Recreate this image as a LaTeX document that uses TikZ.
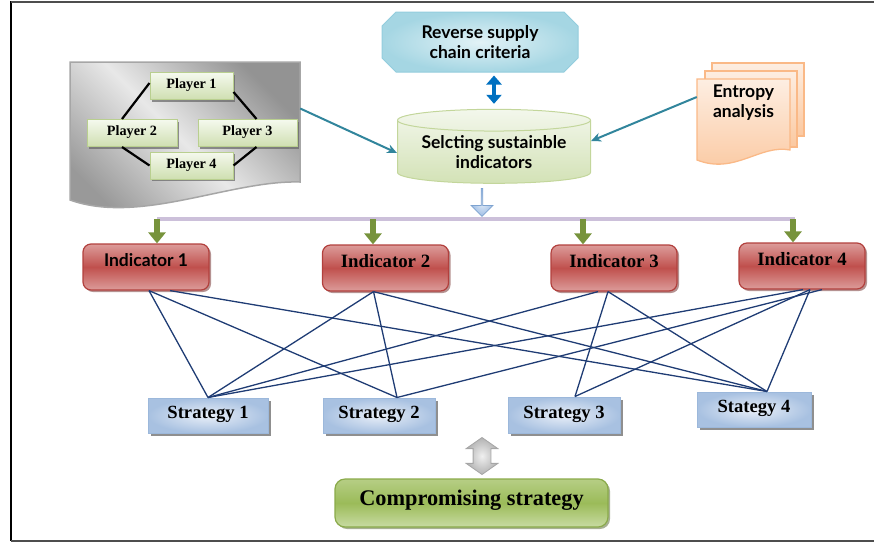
\documentclass[tikz,border=0pt]{standalone}
\usepackage{fontspec}
\setmainfont{Liberation Serif}
\newfontfamily\gillsans{Lato}
\usetikzlibrary{arrows,arrows.meta,shapes.geometric,shapes.misc,shapes.arrows,shadows}

\definecolor{framegray}{HTML}{4D4D4D}
\definecolor{plline}{HTML}{B9CF8F}
\definecolor{plhi}{HTML}{F5F9EE}
\definecolor{pllo}{HTML}{CFDFB1}
\definecolor{indline}{HTML}{B2403D}
\definecolor{indhi}{HTML}{DC9C9A}
\definecolor{indmid}{HTML}{C0504D}
\definecolor{indshadow}{HTML}{6B2523}
\definecolor{stline}{HTML}{9CB8DB}
\definecolor{sthi}{HTML}{E9EFF8}
\definecolor{stlo}{HTML}{A8C1E1}
\definecolor{revline}{HTML}{93CDDD}
\definecolor{revhi}{HTML}{E2F2F6}
\definecolor{revlo}{HTML}{A5D6E3}
\definecolor{selline}{HTML}{C3D69B}
\definecolor{selhi}{HTML}{F3F7EC}
\definecolor{sello}{HTML}{D3E2B6}
\definecolor{entline}{HTML}{FAB987}
\definecolor{enthi}{HTML}{FDEEE2}
\definecolor{entlo}{HTML}{FBC8A0}
\definecolor{tealarr}{HTML}{31859C}
\definecolor{revarr}{HTML}{0070C0}
\definecolor{feedgreen}{HTML}{77933C}
\definecolor{barlav}{HTML}{CCC0DA}
\definecolor{linknavy}{HTML}{1F3C74}
\definecolor{cpline}{HTML}{8AAA4A}
\definecolor{cphi}{HTML}{B6CE85}
\definecolor{cpmid}{HTML}{9BBB59}
\definecolor{cplo}{HTML}{C8DBA2}
\definecolor{cpshadow}{HTML}{4F6228}
\definecolor{dnline}{HTML}{7EA3D0}
\definecolor{dnhi}{HTML}{E3ECF7}
\definecolor{dnlo}{HTML}{9DBDE5}

\tikzset{
  player/.style={draw=plline, line width=1pt, top color=plhi, bottom color=pllo,
    minimum width=83pt, inner xsep=0pt, inner ysep=0pt, text height=16pt, text depth=11pt,
    font=\fontsize{14.2}{16}\selectfont\bfseries,
    drop shadow={shadow xshift=2pt, shadow yshift=-2pt, fill=black!60, opacity=0.7}},
  plink/.style={draw=black, line width=2.2pt},
  gamebg/.style={draw=gray!70, line width=1.5pt, top color=gray!85, bottom color=gray!80,
    middle color=gray!18, shading angle=-45},
  revbox/.style={chamfered rectangle, chamfered rectangle xsep=7pt, chamfered rectangle ysep=7pt,
    draw=revline, line width=1pt, inner color=revhi, outer color=revlo,
    minimum width=196pt, minimum height=60pt, inner sep=0pt, align=center,
    font=\gillsans\fontsize{17.5}{20}\selectfont\bfseries},
  selcyl/.style={cylinder, shape border rotate=90, aspect=0.15, draw=selline, line width=1pt,
    top color=selhi, bottom color=sello, minimum width=193pt, minimum height=74pt,
    inner sep=0pt, align=center, font=\gillsans\fontsize{17.5}{20}\selectfont\bfseries},
  entpage/.style={draw=entline, line width=1.3pt, top color=enthi, bottom color=entlo},
  enttext/.style={minimum width=93pt, inner sep=0pt, align=center,
    font=\gillsans\fontsize{17.5}{20}\selectfont\bfseries},
  tealline/.style={draw=tealarr, line width=2pt, -{Stealth[length=10pt,width=9pt]}},
  revlink/.style={draw=revarr, line width=4.5pt,
    {Triangle[length=9pt,width=15pt]}-{Triangle[length=9pt,width=15pt]}},
  dnarrow/.style={single arrow, shape border rotate=270, draw=dnline, line width=0.8pt,
    inner color=dnhi, outer color=dnlo, minimum height=28pt, minimum width=22pt,
    single arrow head extend=5pt, inner sep=0pt},
  bar/.style={draw=barlav, line width=4pt},
  feed/.style={draw=feedgreen, line width=6pt, -{Triangle[length=11pt,width=17pt]}},
  indic/.style={draw=indline, line width=1.2pt, rounded corners=8pt, top color=indhi,
    bottom color=indhi, middle color=indmid, minimum width=126pt, inner ysep=0pt,
    text height=22pt, text depth=24pt, font=\fontsize{18.8}{20}\selectfont\bfseries,
    drop shadow={shadow xshift=2pt, shadow yshift=-2pt, fill=indshadow}},
  strat/.style={draw=stline, line width=1pt, inner color=sthi, outer color=stlo,
    minimum width=112pt, inner ysep=0pt, text height=20pt, text depth=15pt,
    font=\fontsize{18.6}{20}\selectfont\bfseries,
    drop shadow={shadow xshift=3pt, shadow yshift=-3pt, fill=black!55, opacity=0.8}},
  link/.style={draw=linknavy, line width=1.3pt},
  dblarrow/.style={double arrow, shape border rotate=90, draw=gray!70, line width=0.8pt,
    inner color=gray!12, outer color=gray!60, minimum height=37pt, minimum width=31pt,
    double arrow head extend=7pt, double arrow tip angle=110, inner sep=8.5pt},
  compbox/.style={draw=cpline, line width=1.2pt, rounded corners=10pt, top color=cphi,
    bottom color=cplo, middle color=cpmid, minimum width=273pt, inner ysep=0pt,
    text height=26pt, text depth=22pt, font=\fontsize{22.3}{24}\selectfont\bfseries,
    drop shadow={shadow xshift=2pt, shadow yshift=-2pt, fill=cpshadow}}
}

\begin{document}
\begin{tikzpicture}[x=1pt,y=-1pt]
    \useasboundingbox (0,0) rectangle (874,544);
    \draw[line width=2pt] (11,1) -- (11,541);
    \draw[line width=2pt,framegray] (11,2) -- (874,2);
    \draw[line width=2pt,framegray] (11,541) -- (874,541);

    \path[gamebg] (70,62) -- (300,62) -- (300,182) .. controls (230,180) and (140,225) .. (70,200) -- cycle;
    \node (Game) at (185,137.5) [minimum width=230pt, minimum height=151pt] {};
    \node[player] (P1) at (191.5,86) {Player 1};
    \node[player, minimum width=90pt] (P2) at (132,133) {Player 2};
    \node[player, minimum width=99pt] (P3) at (247.5,133) {Player 3};
    \node[player] (P4) at (191.5,165.5) {Player 4};
    \draw[plink] ([yshift=3pt]P1.west) -- ([xshift=-10pt]P2.north);
    \draw[plink] ([yshift=-6pt]P1.east) -- ([xshift=9pt]P3.north);
    \draw[plink] ([xshift=-10pt]P2.south) -- (P4.west);
    \draw[plink] ([xshift=9pt]P3.south) -- (P4.east);

    \path[entpage] (712,63) rectangle (804,136);
    \path[entpage] (705,71) rectangle (797,147);
    \path[entpage] (697,79) -- (790,79) -- (790,150) .. controls (760,144) and (735,175) .. (697,160) -- cycle;
    \node[enttext] (Ent) at (743.5,103) {Entropy\\analysis};

    \node[revbox] (Rev) at (480,42) {Reverse supply\\chain criteria};
    \node[selcyl] (Sel) at (494,152) {Selcting sustainble\\indicators};
    \draw[revlink, shorten <=3pt, shorten >=5pt] (Rev.south -| Sel.north) -- (Sel.north);
    \draw[tealline] ([yshift=29pt]Game.east) -- ([yshift=-1pt]Sel.west);
    \draw[tealline] ([yshift=6pt]Ent.west) -- ([yshift=11pt]Sel.east);

    \node[dnarrow] (Dn) at (482,202) {};
    \coordinate (Bar1) at (157,219);
    \coordinate (Bar2) at (373,219);
    \coordinate (Bar3) at (583,219);
    \coordinate (Bar4) at (795,219);
    \draw[bar] (Bar1) -- (Bar4);

    \node[indic, font=\gillsans\fontsize{17.5}{20}\selectfont\bfseries] (I1) at (146,267) {Indicator 1};
    \node[indic] (I2) at (385.5,268) {Indicator 2};
    \node[indic] (I3) at (614,268) {Indicator 3};
    \node[indic] (I4) at (802,266) {Indicator 4};
    \draw[feed] (Bar1) -- (Bar1 |- I1.north);
    \draw[feed] (Bar2) -- (Bar2 |- I2.north);
    \draw[feed] (Bar3) -- (Bar3 |- I3.north);
    \draw[feed] ([xshift=-2pt]Bar4) -- ([xshift=-2pt]Bar4 |- I4.north);

    \node[strat, minimum width=120pt] (S1) at (208,415.5) {Strategy 1};
    \node[strat] (S2) at (379,415.5) {Strategy 2};
    \node[strat, text height=21pt] (S3) at (564,415) {Strategy 3};
    \node[strat, minimum width=114pt] (S4) at (754,409.5) {Stategy 4};

    \draw[link] ([xshift=3pt]I1.south) -- (S1.north);
    \draw[link] ([xshift=3pt]I1.south) -- ([xshift=18pt]S2.north);
    \draw[link] ([xshift=24pt]I1.south) -- ([xshift=13pt]S4.north);
    \draw[link] ([xshift=-12pt]I2.south) -- (S1.north);
    \draw[link] ([xshift=-12pt]I2.south) -- ([xshift=18pt]S2.north);
    \draw[link] ([xshift=-12pt]I2.south) -- ([xshift=13pt]S4.north);
    \draw[link] ([xshift=-16pt]I3.south) -- (S1.north);
    \draw[link] ([xshift=-6pt]I3.south) -- ([xshift=11pt]S3.north);
    \draw[link] ([xshift=-6pt]I3.south) -- ([xshift=13pt]S4.north);
    \draw[link] ([xshift=1pt]I4.south) -- (S1.north);
    \draw[link] ([xshift=20pt]I4.south) -- ([xshift=18pt]S2.north);
    \draw[link] ([xshift=8pt]I4.south) -- ([xshift=11pt]S3.north);
    \draw[link] ([xshift=8pt]I4.south) -- ([xshift=13pt]S4.north);

    \node[dblarrow] (Dbl) at (482,456) {};
    \node[compbox] (Comp) at (471.5,503) {Compromising strategy};
\end{tikzpicture}
\end{document}
